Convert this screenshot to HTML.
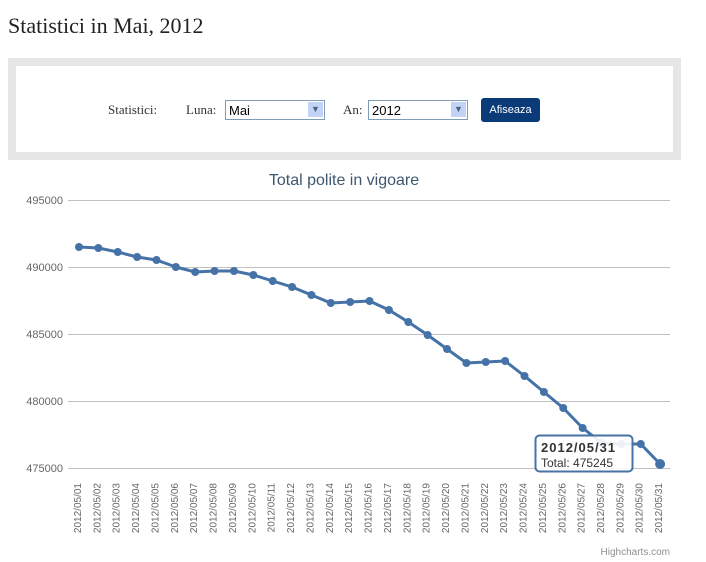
<!DOCTYPE html>
<html><head><meta charset="utf-8"><style>
body{margin:0;width:706px;height:562px;background:#fff;position:relative;overflow:hidden;font-family:"Liberation Sans",sans-serif}
.t{position:absolute;left:8px;top:13px;font-family:"Liberation Serif",serif;font-size:22px;color:#222}
.box{position:absolute;left:8px;top:58px;width:657px;height:86px;border:8px solid #e6e6e6;background:#fff}
.f{position:absolute;top:102px;font-family:"Liberation Serif",serif;font-size:13px;color:#333}
.sel{position:absolute;top:100px;height:19px;border:1px solid #7f9db9;background:#fff;font-size:13px;line-height:19px;padding-left:3px;box-sizing:border-box}
.sel i{position:absolute;right:1px;top:1px;width:15px;height:15px;background:#c3d3f5;font-style:normal;font-size:9px;text-align:center;line-height:15px;color:#4d6185}
.btn{position:absolute;left:481px;top:98px;width:59px;height:24px;background:#0a3a78;color:#fff;border-radius:3px;font-size:11px;text-align:center;line-height:24px}
</style></head><body>
<div class="t">Statistici in Mai, 2012</div>
<div class="box"></div>
<div class="f" style="left:108px">Statistici:</div>
<div class="f" style="left:186px">Luna:</div>
<div class="sel" style="left:225px;width:100px;height:20px">Mai<i>▼</i></div>
<div class="f" style="left:343px">An:</div>
<div class="sel" style="left:368px;width:100px;height:20px">2012<i>▼</i></div>
<div class="btn">Afiseaza</div>
<svg width="706" height="562" style="position:absolute;left:0;top:0">
<text x="344" y="185" text-anchor="middle" font-size="16" fill="#3e576f" font-family="Liberation Sans">Total polite in vigoare</text>
<g stroke="#c0c0c0" stroke-width="1">
<line x1="68" x2="670" y1="200.5" y2="200.5"/><line x1="68" x2="670" y1="267.5" y2="267.5"/><line x1="68" x2="670" y1="334.5" y2="334.5"/><line x1="68" x2="670" y1="401.5" y2="401.5"/><line x1="68" x2="670" y1="468.5" y2="468.5"/>
</g>
<g font-size="11" fill="#666" text-anchor="end" font-family="Liberation Sans">
<text x="63" y="204">495000</text><text x="63" y="271">490000</text><text x="63" y="338">485000</text><text x="63" y="405">480000</text><text x="63" y="472">475000</text>
</g>
<g id="lab" font-size="10" fill="#666" text-anchor="end" font-family="Liberation Sans"></g>
<polyline id="ln" fill="none" stroke="#4572a7" stroke-width="3" stroke-linejoin="round"/>
<g id="pts" fill="#4572a7"></g>
<rect x="535.5" y="435.5" width="97" height="36" rx="4" fill="#fff" fill-opacity="0.9" stroke="#4572a7" stroke-width="2"/>
<text x="541" y="452" font-size="13" font-weight="bold" fill="#333" letter-spacing="1">2012/05/31</text>
<text x="541" y="467" font-size="12" fill="#333">Total: 475245</text>
<text x="670" y="555" text-anchor="end" font-size="10" fill="#909090">Highcharts.com</text>
</svg>
<script>
var ys=[247,248,252,257,260,267,272,271,271,275,281,287,295,303,302,301,310,322,335,349,363,362,361,376,392,408,428,443,444,444,464];
var p=[],pts='',lab='';
for(var i=0;i<31;i++){var x=79+i*19.37;p.push(x+','+ys[i]);
pts+='<circle cx="'+x+'" cy="'+ys[i]+'" r="'+(i==30?5:4)+'"/>';
var d=(i+1<10?'0':'')+(i+1);
lab+='<text transform="translate('+(x+2)+',483) rotate(-90)">2012/05/'+d+'</text>';}
document.getElementById('ln').setAttribute('points',p.join(' '));
document.getElementById('pts').innerHTML=pts;
document.getElementById('lab').innerHTML=lab;
</script>
</body></html>
